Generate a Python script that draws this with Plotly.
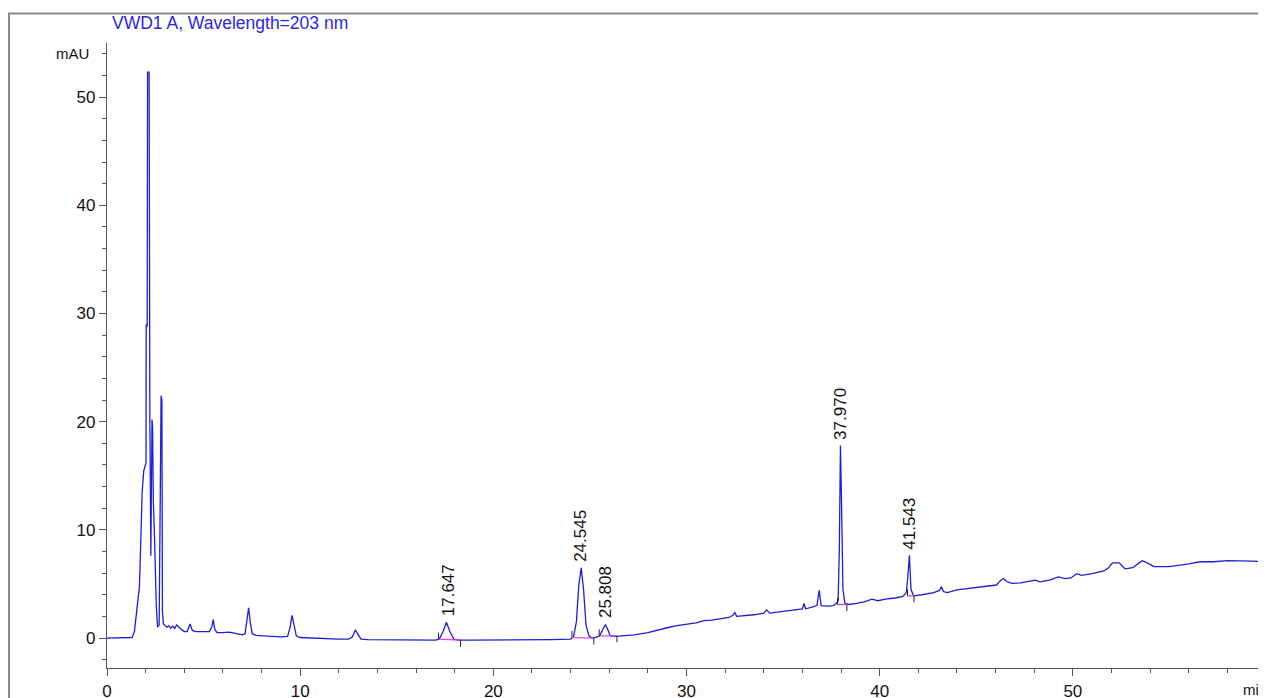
import plotly.graph_objects as go

# ---- data ----
time_min = [0.0, 0.5, 1.0, 1.3, 1.42, 1.5, 1.57, 1.62, 1.68, 1.75, 1.82, 1.9, 1.97, 2.02,
            2.03, 2.08, 2.10, 2.18, 2.22, 2.27, 2.33, 2.36, 2.40, 2.45, 2.55, 2.62, 2.70,
            2.76, 2.80, 2.84, 2.87, 2.92, 3.0, 3.1, 3.2, 3.3, 3.4, 3.5, 3.6, 3.7, 3.85,
            4.0, 4.15, 4.3, 4.42, 4.6, 5.0, 5.3, 5.42, 5.5, 5.58, 5.7, 6.0, 6.3, 6.6, 7.0,
            7.15, 7.25, 7.33, 7.42, 7.52, 7.7, 8.0, 8.5, 9.0, 9.35, 9.48, 9.58, 9.68, 9.8,
            10.0, 10.5, 11.0, 11.5, 12.0, 12.5, 12.7, 12.85, 12.98, 13.15, 13.5, 14.0, 15.0,
            16.0, 17.0, 17.2, 17.4, 17.57, 17.75, 17.95, 18.2, 19.0, 20.0, 21.0, 22.0, 23.0,
            24.0, 24.15, 24.3, 24.42, 24.55, 24.67, 24.8, 24.95, 25.1, 25.3, 25.5, 25.68,
            25.8, 25.92, 26.05, 26.3, 26.8, 27.3, 28.0, 28.5, 29.0, 29.5, 30.0, 30.5, 30.9,
            31.3, 31.8, 32.2, 32.4, 32.5, 32.6, 33.0, 33.5, 34.0, 34.15, 34.3, 34.8, 35.3,
            35.8, 36.0, 36.08, 36.17, 36.5, 36.75, 36.87, 36.97, 37.3, 37.6, 37.75, 37.85,
            37.91, 37.97, 38.03, 38.1, 38.2, 38.4, 38.8, 39.2, 39.6, 39.9, 40.3, 40.8, 41.2,
            41.38, 41.45, 41.54, 41.62, 41.75, 42.2, 42.8, 43.1, 43.2, 43.3, 43.5, 44.0,
            44.5, 45.0, 45.5, 46.05, 46.25, 46.4, 46.6, 46.85, 47.3, 47.8, 48.05, 48.3,
            48.8, 49.25, 49.6, 49.9, 50.2, 50.45, 51.0, 51.6, 51.85, 52.05, 52.4, 52.7,
            53.1, 53.4, 53.6, 53.85, 54.2, 55.0, 55.5, 56.0, 56.6, 57.3, 58.0, 58.7, 59.3,
            60.0]
signal_mau = [0.0, 0.0, 0.0, 0.05, 0.6, 1.8, 3.4, 3.6, 4.8, 9.0, 13.5, 15.4, 15.8, 16.2,
              29.0, 28.8, 52.3, 52.3, 20.0, 7.6, 20.2, 19.5, 12.5, 10.0, 3.0, 1.0, 1.2,
              12.0, 22.4, 22.0, 2.5, 1.3, 1.2, 1.0, 1.15, 0.9, 1.1, 0.9, 1.2, 1.0, 0.8,
              0.6, 0.6, 1.3, 0.7, 0.6, 0.6, 0.6, 1.0, 1.7, 0.8, 0.5, 0.5, 0.55, 0.45, 0.3,
              0.4, 1.6, 2.8, 1.4, 0.4, 0.25, 0.2, 0.15, 0.1, 0.15, 1.0, 2.1, 1.2, 0.2,
              0.05, 0.0, -0.05, -0.05, -0.1, -0.1, 0.1, 0.75, 0.4, -0.1, -0.15, -0.15, -0.2,
              -0.2, -0.2, -0.1, 0.6, 1.45, 0.6, -0.1, -0.2, -0.2, -0.2, -0.2, -0.15, -0.15,
              -0.1, 0.1, 1.5, 4.8, 6.5, 4.5, 1.2, 0.2, 0.0, 0.05, 0.2, 0.8,
              1.25, 0.8, 0.2, 0.15, 0.2, 0.3, 0.5, 0.75, 0.95, 1.15, 1.3, 1.4, 1.6,
              1.65, 1.8, 1.9, 2.1, 2.35, 2.0, 2.05, 2.15, 2.3, 2.6, 2.3, 2.4, 2.5,
              2.6, 2.7, 3.2, 2.7, 2.85, 3.0, 4.4, 3.0, 2.95, 3.0, 3.2, 3.4,
              8.0, 17.8, 12.0, 4.5, 3.2, 3.1, 3.2, 3.35, 3.6, 3.45, 3.6, 3.7, 3.85,
              4.2, 5.5, 7.65, 4.5, 3.9, 4.0, 4.2, 4.4, 4.75, 4.3, 4.2, 4.45,
              4.55, 4.65, 4.8, 4.9, 5.3, 5.5, 5.2, 5.05, 5.1, 5.25, 5.35, 5.2,
              5.35, 5.65, 5.5, 5.55, 5.95, 5.8, 5.95, 6.2, 6.5, 6.95, 6.95, 6.4,
              6.5, 6.9, 7.15, 6.95, 6.6, 6.6, 6.7, 6.85, 7.05, 7.05, 7.15, 7.15, 7.1,
              7.05]

# labelled peaks: retention time, apex height
peak_rt = [17.647, 24.545, 25.808, 37.970, 41.543]
peak_apex = [1.45, 6.5, 1.25, 17.8, 7.65]
peak_label = ["17.647", "24.545", "25.808", "37.970", "41.543"]

# integration baselines (start t, start y, end t, end y)
int_start_t = [17.16, 24.07, 25.48, 37.82, 41.44]
int_start_y = [-0.1, 0.05, 0.2, 3.1, 3.9]
int_end_t = [18.3, 25.2, 26.4, 38.3, 41.78]
int_end_y = [-0.2, 0.0, 0.2, 3.1, 3.9]

x_major = [0, 10, 20, 30, 40, 50]
x_minor = [v for v in range(0, 61, 2)]
y_major = [0, 10, 20, 30, 40, 50, 54]
y_major_text = ["0", "10", "20", "30", "40", "50", ""]
y_minor = [v for v in range(-2, 55, 2)]

# ---- figure ----
# the page places the figure 8 px in from the top-left corner of the window
OFF = 8
W, H = 1266 - OFF, 698 - OFF
L, R, T, B = 107 - OFF, 0, 43 - OFF, 30
XR = [0, 60]
YR = [-2.77, 55]

fig = go.Figure()

fig.add_trace(go.Scatter(x=time_min, y=signal_mau, mode="lines",
                         line=dict(color="rgb(30,30,215)", width=1.3),
                         hoverinfo="skip", showlegend=False))

# integration baselines
bx, by = [], []
for a, b, c, d in zip(int_start_t, int_start_y, int_end_t, int_end_y):
    bx += [a, c, None]
    by += [b, d, None]
fig.add_trace(go.Scatter(x=bx, y=by, mode="lines",
                         line=dict(color="rgb(230,60,230)", width=1.2),
                         hoverinfo="skip", showlegend=False))

# start / end tick marks of integration
tx, ty = [], []
for a, b, c, d in zip(int_start_t, int_start_y, int_end_t, int_end_y):
    tx += [a, a, None, c, c, None]
    ty += [b, b + 0.6, None, d, d - 0.6, None]
fig.add_trace(go.Scatter(x=tx, y=ty, mode="lines",
                         line=dict(color="#222", width=1),
                         hoverinfo="skip", showlegend=False))

for rt, ap, lab in zip(peak_rt, peak_apex, peak_label):
    fig.add_annotation(x=rt, y=ap, text=lab, showarrow=False, textangle=-90,
                       xanchor="center", yanchor="bottom", yshift=4,
                       font=dict(family="Liberation Sans, Arial", size=17, color="#111"))

pw = W - L - R
ph = H - T - B

def px(xp):
    # window pixel -> paper x
    return (xp - OFF - L) / pw

def py(yp):
    # window pixel -> paper y
    return (H - B - (yp - OFF)) / ph

# title
fig.add_annotation(xref="paper", yref="paper", x=px(110), y=py(23),
                   text="VWD1 A, Wavelength=203 nm", showarrow=False,
                   xanchor="left", yanchor="middle",
                   font=dict(family="Liberation Sans, Arial", size=17.5, color="rgb(40,40,225)"))
# mAU label
fig.add_annotation(xref="paper", yref="paper", x=px(91), y=py(53),
                   text="mAU", showarrow=False, xanchor="right", yanchor="middle",
                   font=dict(family="Liberation Sans, Arial", size=15, color="#111"))
# min label
fig.add_annotation(xref="paper", yref="paper", x=px(1241), y=py(690),
                   text="min", showarrow=False, xanchor="left", yanchor="middle",
                   font=dict(family="Liberation Sans, Arial", size=15, color="#111"))

# outer frame lines
fig.add_shape(type="line", xref="paper", yref="paper", x0=px(8), x1=px(1266),
              y0=py(13.5), y1=py(13.5), line=dict(color="#888", width=2))
fig.add_shape(type="line", xref="paper", yref="paper", x0=px(9), x1=px(9),
              y0=py(13.5), y1=py(698), line=dict(color="#888", width=2))

axis_common = dict(showgrid=False, zeroline=False, showline=True, linecolor="#555",
                   linewidth=1.3, ticks="outside", tickcolor="#555", tickwidth=1.2,
                   ticklen=7, automargin=False,
                   tickfont=dict(family="Liberation Sans, Arial", size=17, color="#111"))

fig.update_layout(
    width=W, height=H, autosize=False,
    margin=dict(l=L, r=R, t=T, b=B, pad=0),
    paper_bgcolor="white", plot_bgcolor="white",
    xaxis=dict(range=XR, tickmode="array", tickvals=x_major,
               ticktext=[str(v) for v in x_major],
               minor=dict(tickmode="array", tickvals=x_minor, ticks="outside",
                          ticklen=4, tickcolor="#555"),
               **axis_common),
    yaxis=dict(range=YR, tickmode="array", tickvals=y_major, ticktext=y_major_text,
               minor=dict(tickmode="array", tickvals=y_minor, ticks="outside",
                          ticklen=4, tickcolor="#555"),
               **axis_common),
    showlegend=False,
)

fig.write_html("out.html")
